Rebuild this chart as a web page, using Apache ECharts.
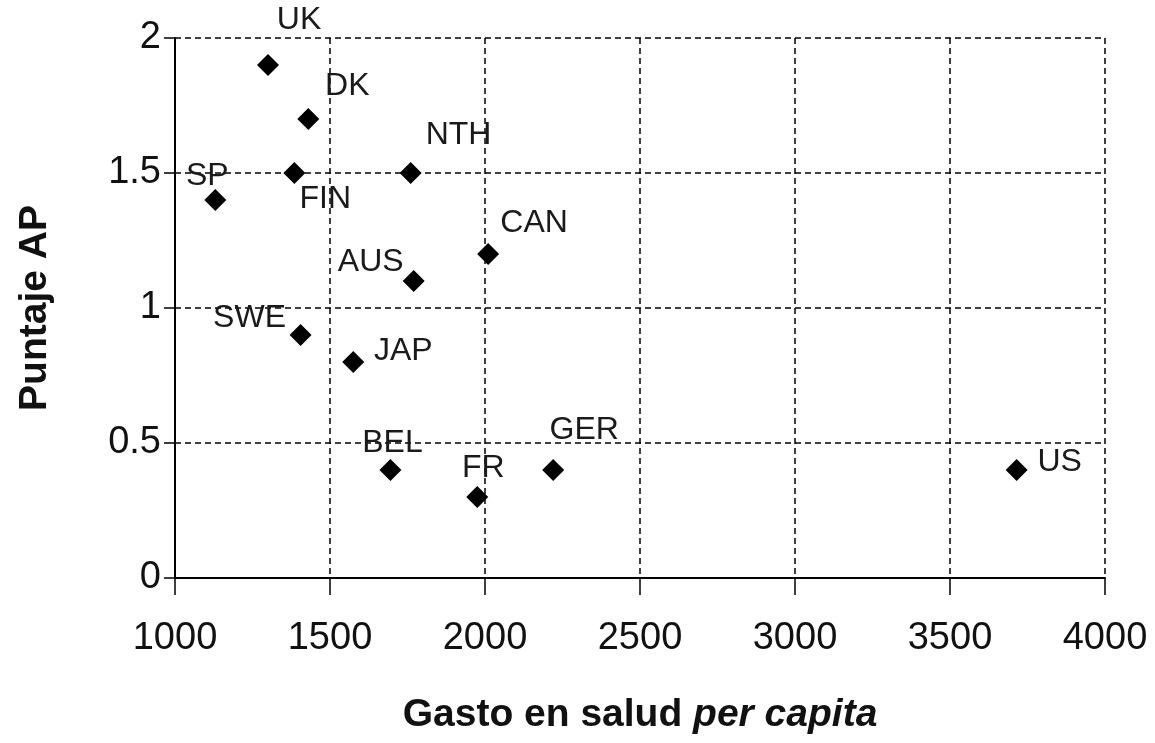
<!DOCTYPE html>
<html>
<head>
<meta charset="utf-8">
<script src="https://cdn.jsdelivr.net/npm/echarts@6/dist/echarts.min.js"></script>
<style>
  html, body { margin: 0; padding: 0; background: #fff; }
  #chart { width: 1155px; height: 743px; }
</style>
</head>
<body>
<div id="chart"></div>
<script>
// countries and their values
const countries = ['UK', 'DK', 'NTH', 'SP', 'FIN', 'CAN', 'AUS', 'SWE', 'JAP', 'BEL', 'FR', 'GER', 'US'];
const gasto = [1300, 1430, 1760, 1130, 1385, 2010, 1770, 1405, 1575, 1695, 1975, 2220, 3715];
const puntaje = [1.9, 1.7, 1.5, 1.4, 1.5, 1.2, 1.1, 0.9, 0.8, 0.4, 0.3, 0.4, 0.4];

const xTicks = [1000, 1500, 2000, 2500, 3000, 3500, 4000];
const yTicks = [0, 0.5, 1, 1.5, 2];

// where each label sits relative to its marker (px)
const labelOffset = {
  UK: [31, -45], DK: [39, -33], NTH: [48, -38], SP: [-8, -24], FIN: [31, 26],
  CAN: [46, -31], AUS: [-43, -19], SWE: [-51, -17], JAP: [50, -11],
  BEL: [2, -27], FR: [6, -29], GER: [31, -40], US: [43, -8]
};

const font = 'Liberation Sans, Arial, sans-serif';
const ink = '#111';

const points = countries.map((c, i) => ({
  name: c,
  value: [gasto[i], puntaje[i]],
  label: { offset: labelOffset[c] }
}));

const chart = echarts.init(document.getElementById('chart'));
chart.setOption({
  animation: false,
  backgroundColor: '#fff',
  grid: { left: 175, right: 50, top: 38, bottom: 165, containLabel: false },
  xAxis: {
    type: 'value',
    min: xTicks[0],
    max: xTicks[xTicks.length - 1],
    interval: 500,
    name: '{b|Gasto en salud }{i|per capita}',
    nameLocation: 'middle',
    nameGap: 118,
    nameTextStyle: {
      rich: {
        b: { fontFamily: font, fontSize: 39, fontWeight: 'bold', color: ink },
        i: { fontFamily: font, fontSize: 39, fontWeight: 'bold', fontStyle: 'italic', color: ink }
      }
    },
    axisLine: { show: true, onZero: false, lineStyle: { color: '#000', width: 2 } },
    axisTick: { show: true, length: 17, lineStyle: { color: '#000', width: 1.5 } },
    axisLabel: {
      fontFamily: font, fontSize: 38, color: ink, margin: 42,
      formatter: v => String(v)
    },
    splitLine: { show: true, lineStyle: { color: '#000', type: [6, 4], width: 1.5 } }
  },
  yAxis: {
    type: 'value',
    min: yTicks[0],
    max: yTicks[yTicks.length - 1],
    interval: 0.5,
    name: 'Puntaje AP',
    nameLocation: 'middle',
    nameGap: 120,
    nameTextStyle: { fontFamily: font, fontSize: 39, fontWeight: 'bold', color: ink },
    axisLine: { show: true, onZero: false, lineStyle: { color: '#000', width: 2 } },
    axisTick: { show: true, length: 11, lineStyle: { color: '#000', width: 1.5 } },
    axisLabel: {
      fontFamily: font, fontSize: 38, color: ink, margin: 14,
      formatter: v => String(v)
    },
    splitLine: { show: true, lineStyle: { color: '#000', type: [6, 4], width: 1.5 } }
  },
  series: [{
    type: 'scatter',
    symbol: 'diamond',
    symbolSize: 22,
    itemStyle: { color: '#000', opacity: 1 },
    label: {
      show: true,
      position: 'inside',
      formatter: '{b}',
      fontFamily: font,
      fontSize: 32,
      color: '#1a1a1a'
    },
    data: points
  }]
});
</script>
</body>
</html>
